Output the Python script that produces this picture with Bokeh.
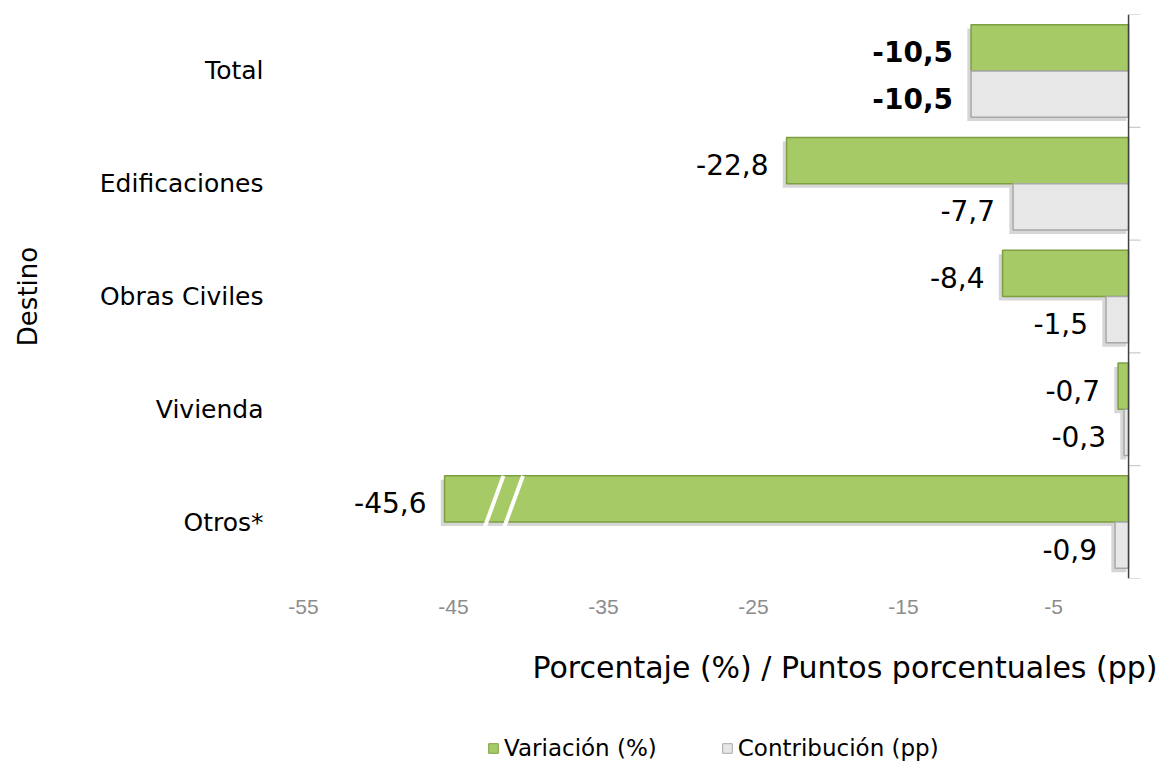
from bokeh.plotting import figure
from bokeh.layouts import column
from bokeh.models import (ColumnDataSource, FixedTicker, Range1d, Span, Legend,
                          LegendItem, Title)
from bokeh.core.properties import value
from bokeh.embed import file_html
from bokeh.resources import INLINE

# ---- data ----
categories = ["Total", "Edificaciones", "Obras Civiles", "Vivienda", "Otros*"]
variacion = [-10.5, -22.8, -8.4, -0.7, -45.6]
contribucion = [-10.5, -7.7, -1.5, -0.3, -0.9]
x_ticks = [-55, -45, -35, -25, -15, -5]
series_names = ["Variación (%)", "Contribución (pp)"]


def fmt(v):
    return f"{v:.1f}".replace(".", ",")


n = len(categories)
idx = list(range(n))
off = 0.205
bar_h = 0.41
styles = ["bold"] + ["normal"] * (n - 1)

GREEN, GREEN_EDGE = "#A6CA66", "#7E9E42"
GREY, GREY_EDGE = "#E7E7E7", "#A8A8A8"
FONT = "DejaVu Sans"

var_src = ColumnDataSource(dict(y=[i - off for i in idx], right=variacion,
                                label=[fmt(v) for v in variacion], style=styles))
con_src = ColumnDataSource(dict(y=[i + off for i in idx], right=contribucion,
                                label=[fmt(v) for v in contribucion], style=styles))

p = figure(width=1161, height=720,
           x_range=Range1d(-56.27, 1.93), y_range=Range1d(n - 0.5, -0.5),
           output_backend="svg", toolbar_location=None,
           min_border_left=284, min_border_right=4, min_border_top=14,
           min_border_bottom=142)
p.outline_line_color = None
p.xgrid.visible = False
p.ygrid.visible = False

# soft drop shadows under the bars
for vals, ys in ((variacion, var_src.data["y"]), (contribucion, con_src.data["y"])):
    p.hbar(y=[yy + 0.035 for yy in ys], left=[-0.15] * n,
           right=[v - 0.25 for v in vals], height=bar_h,
           fill_color="#000000", fill_alpha=0.16, line_color=None)

# bars
p.hbar(y="y", left=0, right="right", height=bar_h, source=var_src,
       fill_color=GREEN, line_color=GREEN_EDGE, line_width=1.5)
p.hbar(y="y", left=0, right="right", height=bar_h, source=con_src,
       fill_color=GREY, line_color=GREY_EDGE, line_width=1.5)

# break marks on the longest bar
big = min(variacion)
i_big = variacion.index(big)
brk = big * 0.915
y_top = i_big - off - bar_h / 2
y_bot = i_big - off + bar_h / 2 + 0.1
p.segment(x0=[brk - 0.65 + 0.7, brk + 0.65 + 0.7],
          x1=[brk - 0.65 - 0.7, brk + 0.65 - 0.7],
          y0=[y_top, y_top], y1=[y_bot, y_bot],
          line_color="white", line_width=4)

# value labels
for src in (var_src, con_src):
    p.text(x="right", y="y", text="label", source=src, text_align="right",
           text_baseline="middle", x_offset=-18, y_offset=4,
           text_font=value(FONT), text_font_size="28px",
           text_font_style="style", text_color="#000000")

# vertical axis line at zero with boundary ticks
p.add_layout(Span(location=0, dimension="height", line_color="#404040",
                  line_width=1.5))
bounds = [i - 0.5 for i in range(n + 1)]
p.segment(x0=[0] * len(bounds), x1=[0.8] * len(bounds), y0=bounds, y1=bounds,
          line_color="#BFBFBF", line_width=1)

# x axis
xa = p.xaxis[0]
xa.ticker = FixedTicker(ticks=x_ticks)
xa.major_label_overrides = {t: str(t) for t in x_ticks}
xa.axis_line_color = None
xa.major_tick_line_color = None
xa.minor_tick_line_color = None
xa.major_label_text_color = "#8C8C8C"
xa.major_label_text_font = "Liberation Sans"
xa.major_label_text_font_size = "21px"
xa.major_label_standoff = 15

# y axis
ya = p.yaxis[0]
ya.ticker = FixedTicker(ticks=idx)
ya.major_label_overrides = {i: c for i, c in zip(idx, categories)}
ya.axis_line_color = None
ya.major_tick_line_color = None
ya.minor_tick_line_color = None
ya.major_label_text_font = FONT
ya.major_label_text_font_size = "25px"
ya.major_label_text_color = "#000000"
ya.major_label_standoff = 15
ya.axis_label = "Destino"
ya.axis_label_text_font = FONT
ya.axis_label_text_font_size = "26px"
ya.axis_label_text_font_style = "normal"
ya.axis_label_text_color = "#000000"
ya.axis_label_standoff = 54

# x title
p.add_layout(Title(text="Porcentaje (%) / Puntos porcentuales (pp)", align="right",
                   text_font=FONT, text_font_size="30px", text_font_style="normal",
                   text_color="#000000", standoff=62), "below")

# ---- legend strip ----
pl = figure(width=1161, height=50, x_range=Range1d(0, 1), y_range=Range1d(0, 1),
            output_backend="svg", toolbar_location=None,
            x_axis_location=None, y_axis_location=None, min_border=0)
pl.outline_line_color = None
pl.xgrid.visible = False
pl.ygrid.visible = False
# key renderers kept outside the visible range; only their legend swatches show
lg1 = pl.hbar(y=[-5], left=[0], right=[1], height=0.1, fill_color=GREEN,
              line_color=GREEN_EDGE, line_width=1)
lg2 = pl.hbar(y=[-5], left=[0], right=[1], height=0.1, fill_color=GREY,
              line_color=GREY_EDGE, line_width=1)
legend = Legend(items=[LegendItem(label=series_names[0], renderers=[lg1]),
                       LegendItem(label=series_names[1], renderers=[lg2])],
                orientation="horizontal", location=(203, 9),
                glyph_width=12, glyph_height=12, label_text_font=FONT,
                label_text_font_size="23px", label_text_color="#000000",
                spacing=64, label_standoff=5, padding=0, margin=0,
                border_line_color=None, background_fill_alpha=0)
pl.add_layout(legend)

layout = column(p, pl, spacing=0)
open("out.html", "w").write(file_html(layout, INLINE))
